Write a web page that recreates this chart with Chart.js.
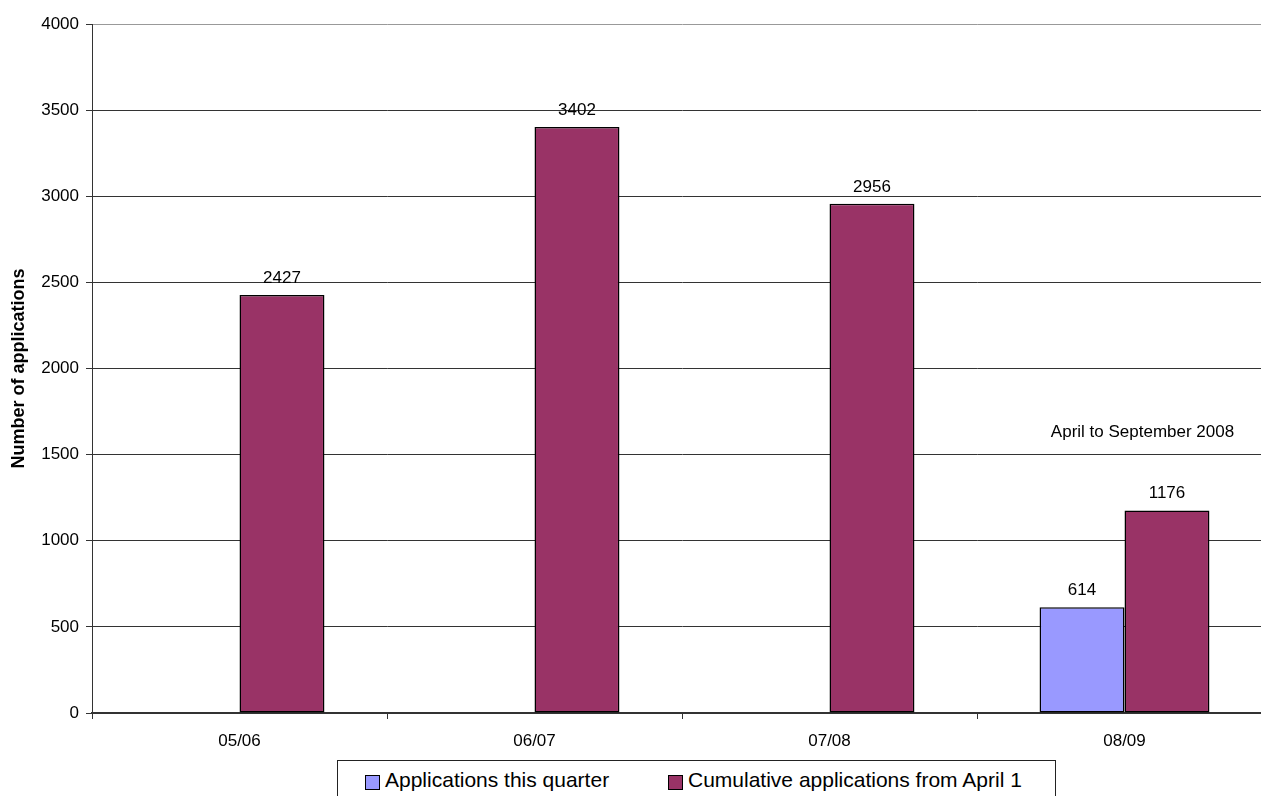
<!DOCTYPE html>
<html>
<head>
<meta charset="utf-8">
<script src="https://cdn.jsdelivr.net/npm/chart.js@4/dist/chart.umd.min.js"></script>
<style>
  html, body { margin: 0; padding: 0; background: #fff; overflow: hidden; width: 1261px; height: 796px; }
  #wrap { position: relative; width: 1261px; height: 796px; overflow: hidden; }
  canvas { position: absolute; left: 0; top: 0; }
  #legend { position: absolute; left: 337px; top: 760px; width: 717px; height: 60px; border: 1px solid #222; background: #fff;
            font-family: "Liberation Sans", Arial, sans-serif; font-size: 21px; color: #000; }
  .sw { position: absolute; top: 14px; width: 13px; height: 13px; border: 1px solid #000; }
  .lt { position: absolute; top: 7px; line-height: normal; white-space: nowrap; }
</style>
</head>
<body>
<div id="wrap">
  <canvas id="c" width="1272" height="796"></canvas>
  <div id="legend"></div>
</div>
<script>
const categories = ['05/06', '06/07', '07/08', '08/09'];
const seriesNames = ['Applications this quarter', 'Cumulative applications from April 1'];
const applicationsThisQuarter = [null, null, null, 614];
const cumulativeApplications = [2427, 3402, 2956, 1176];
const yTicks = [0, 500, 1000, 1500, 2000, 2500, 3000, 3500, 4000];
const annotationText = 'April to September 2008';
const annotationCategory = 3;
const annotationValue = 1600;
const colors = ['#9999FF', '#993366'];

const FONT = '"Liberation Sans", Arial, sans-serif';

const valueLabels = {
  id: 'valueLabels',
  afterDatasetsDraw(chart) {
    const ctx = chart.ctx;
    ctx.save();
    ctx.font = '17px ' + FONT;
    ctx.fillStyle = '#000';
    ctx.textAlign = 'center';
    ctx.textBaseline = 'alphabetic';
    chart.data.datasets.forEach((ds, i) => {
      const meta = chart.getDatasetMeta(i);
      meta.data.forEach((bar, j) => {
        const v = ds.data[j];
        if (v === null || v === undefined) return;
        ctx.fillText(String(v), bar.x, bar.y - 12);
      });
    });
    const xs = chart.scales.x, ys = chart.scales.y;
    ctx.fillText(annotationText, xs.getPixelForValue(annotationCategory) + 18, ys.getPixelForValue(annotationValue));
    ctx.restore();
  }
};

new Chart(document.getElementById('c'), {
  type: 'bar',
  data: {
    labels: categories,
    datasets: [
      { label: seriesNames[0], data: applicationsThisQuarter, backgroundColor: colors[0], borderColor: '#000', borderWidth: 1.5, borderSkipped: false },
      { label: seriesNames[1], data: cumulativeApplications, backgroundColor: colors[1], borderColor: '#000', borderWidth: 1.5, borderSkipped: false }
    ]
  },
  options: {
    responsive: false,
    animation: false,
    devicePixelRatio: 1,
    categoryPercentage: 0.576,
    barPercentage: 1,
    layout: { padding: { top: 24, left: 0, right: 0, bottom: 0 } },
    plugins: { legend: { display: false }, tooltip: { enabled: false } },
    scales: {
      x: {
        offset: true,
        grid: { display: true, drawOnChartArea: false, drawTicks: true, tickLength: 6, tickColor: '#333', offset: true },
        border: { display: true, color: '#333', width: 2 },
        ticks: { color: '#000', font: { family: FONT, size: 17 }, padding: 12, maxRotation: 0 },
        afterFit(s) { s.height = 83; }
      },
      y: {
        min: 0, max: 4000,
        afterBuildTicks(s) { s.ticks = yTicks.map(v => ({ value: v })); },
        grid: { color: (c) => c.tick && c.tick.value === 4000 ? '#999' : '#333', lineWidth: 1, tickLength: 6, tickColor: '#333', drawTicks: true },
        border: { display: true, color: '#333', width: 1 },
        ticks: { color: '#000', font: { family: FONT, size: 17 }, padding: 7, callback: (v) => String(v) },
        title: { display: true, text: 'Number of applications', color: '#000', font: { family: FONT, size: 18, weight: 'bold' }, padding: { top: 8, bottom: 0 } },
        afterFit(s) { s.width = 92; }
      }
    }
  },
  plugins: [valueLabels]
});

const legend = document.getElementById('legend');
const itemLeft = [27, 330];
seriesNames.forEach((name, i) => {
  const sw = document.createElement('div');
  sw.className = 'sw';
  sw.style.left = itemLeft[i] + 'px';
  sw.style.background = colors[i];
  legend.appendChild(sw);
  const t = document.createElement('div');
  t.className = 'lt';
  t.style.left = (itemLeft[i] + 20) + 'px';
  t.textContent = name;
  legend.appendChild(t);
});
</script>
</body>
</html>
